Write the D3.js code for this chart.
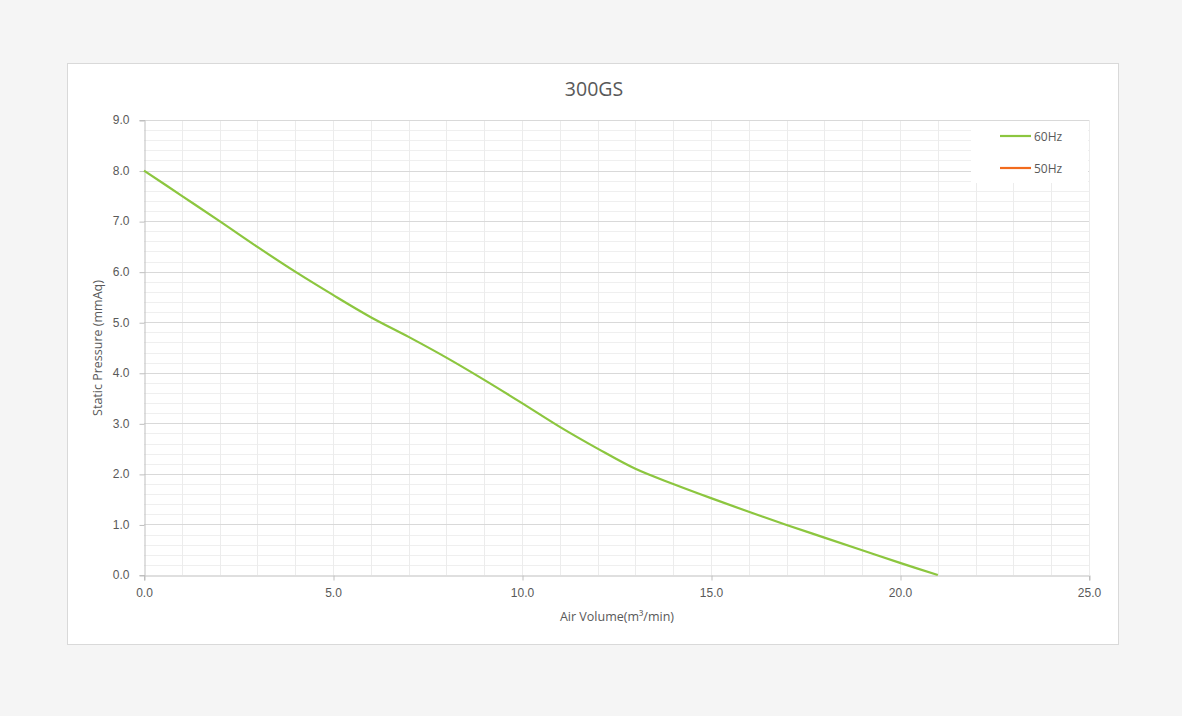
<!DOCTYPE html>
<html><head><meta charset="utf-8">
<script src="https://cdn.jsdelivr.net/npm/d3@7"></script>
<style>
html,body{margin:0;padding:0;background:#f5f5f5;}
svg{display:block;font-family:"Open Sans","Noto Sans",sans-serif;}
</style></head>
<body>
<svg id="c" width="1182" height="716"></svg>
<script>
const title = "300GS";
const xLabel = "Air Volume(m³/min)";
const yLabel = "Static Pressure (mmAq)";
const seriesNames = ["60Hz", "50Hz"];
const seriesColors = ["#8cc63f", "#f26b1d"];
const airVolume60 = [0, 1, 2, 3, 4, 5, 6, 7, 8, 9, 10, 11, 12, 13, 14, 15, 16, 17, 18, 19, 20, 21];
const pressure60 = [8.0, 7.5, 7.0, 6.49, 6.0, 5.54, 5.1, 4.71, 4.3, 3.86, 3.4, 2.93, 2.5, 2.1, 1.8, 1.52, 1.25, 0.99, 0.74, 0.49, 0.24, 0.0];
const airVolume50 = [];
const pressure50 = [];
const xTicks = [0, 5, 10, 15, 20, 25];
const yTicks = [0, 1, 2, 3, 4, 5, 6, 7, 8, 9];

const svg = d3.select("#c");
svg.append("rect").attr("x", 67.5).attr("y", 63.5).attr("width", 1051).attr("height", 581)
  .attr("fill", "#fff").attr("stroke", "#d9d9d9");

const L = 144, R = 1089, T = 120, B = 575;
const x = d3.scaleLinear().domain([0, 25]).range([L, R]);
const y = d3.scaleLinear().domain([0, 9]).range([B, T]);

const g = svg.append("g");
g.selectAll(".hmin").data(d3.range(0, 45).map(i => i * 0.2).filter(v => Math.abs(v - Math.round(v)) > 1e-6))
  .join("line").attr("x1", L).attr("x2", R)
  .attr("y1", d => Math.round(y(d)) + 0.5).attr("y2", d => Math.round(y(d)) + 0.5)
  .attr("stroke", "#efefef");
g.selectAll(".v").data(d3.range(1, 26)).join("line")
  .attr("x1", d => Math.round(x(d)) + 0.5).attr("x2", d => Math.round(x(d)) + 0.5)
  .attr("y1", T).attr("y2", B).attr("stroke", "#ececec");
g.selectAll(".hmaj").data(yTicks.slice(1)).join("line").attr("x1", L).attr("x2", R)
  .attr("y1", d => Math.round(y(d)) + 0.5).attr("y2", d => Math.round(y(d)) + 0.5)
  .attr("stroke", "#d9d9d9");

const ax = svg.append("g").attr("transform", `translate(0,${Math.round(B) + 0.5})`)
  .call(d3.axisBottom(x).tickValues(xTicks).tickFormat(d3.format(".1f")).tickSize(5).tickPadding(8));
const ay = svg.append("g").attr("transform", `translate(${L + 0.5},0)`)
  .call(d3.axisLeft(y).tickValues(yTicks).tickFormat(d3.format(".1f")).tickSize(5).tickPadding(10));
[ax, ay].forEach(a => {
  a.select(".domain").attr("stroke", "#bfbfbf");
  a.selectAll(".tick line").attr("stroke", "#bfbfbf");
  a.selectAll("text").attr("fill", "#595959").style("font-size", "12px");
});
ax.selectAll(".tick line").attr("transform", "translate(0.5,0)");
ay.selectAll(".tick line").attr("transform", "translate(0,0.5)");

const line = d3.line().x(d => x(d[0])).y(d => y(d[1])).curve(d3.curveCatmullRom.alpha(0.5));
svg.append("path").datum(airVolume60.map((v, i) => [v, pressure60[i]]))
  .attr("d", line).attr("fill", "none").attr("stroke", seriesColors[0]).attr("stroke-width", 2.2);
svg.append("path").datum(airVolume50.map((v, i) => [v, pressure50[i]]))
  .attr("d", line).attr("fill", "none").attr("stroke", seriesColors[1]).attr("stroke-width", 2.2);

svg.append("rect").attr("x", 971).attr("y", 121).attr("width", 117).attr("height", 62).attr("fill", "#fff");
const leg = svg.append("g");
seriesNames.forEach((n, i) => {
  const yy = 136 + i * 32;
  leg.append("line").attr("x1", 1000).attr("x2", 1031).attr("y1", yy).attr("y2", yy)
    .attr("stroke", seriesColors[i]).attr("stroke-width", 2.2);
  leg.append("text").attr("x", 1034).attr("y", yy + 4.5).text(n)
    .attr("fill", "#595959").style("font-size", "12px");
});

svg.append("text").attr("x", 594).attr("y", 96).attr("text-anchor", "middle")
  .attr("fill", "#595959").style("font-size", "19.5px").text(title);
svg.append("text").attr("x", 617).attr("y", 621).attr("text-anchor", "middle")
  .attr("fill", "#595959").style("font-size", "12.5px").text(xLabel);
svg.append("text").attr("transform", "translate(102,348) rotate(-90)").attr("text-anchor", "middle")
  .attr("fill", "#595959").style("font-size", "12.5px").text(yLabel);
</script>
</body></html>
